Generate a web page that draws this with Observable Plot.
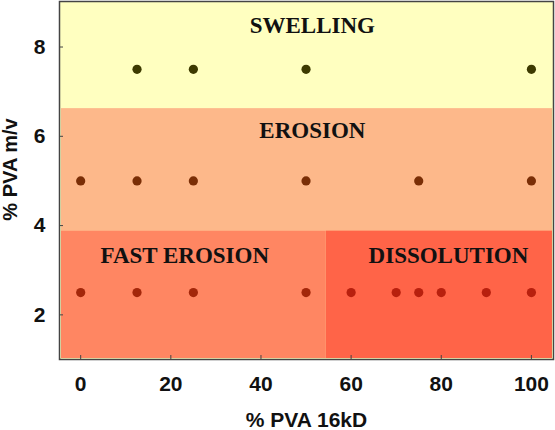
<!DOCTYPE html>
<html>
<head>
<meta charset="utf-8">
<script src="https://cdn.jsdelivr.net/npm/d3@7"></script>
<script src="https://cdn.jsdelivr.net/npm/@observablehq/plot@0.6"></script>
<style>
  html, body { margin: 0; padding: 0; background: #fff; }
  #chart svg { display: block; }
</style>
</head>
<body>
<div id="chart"></div>
<script>
// Data
const swellingX = [12.5, 25, 50, 100];
const swellingY = 7.5;
const erosionX = [0, 12.5, 25, 50, 75, 100];
const erosionY = 5;
const fastErosionX = [0, 12.5, 25, 50];
const fastErosionY = 2.5;
const dissolutionX = [60, 70, 75, 80, 90, 100];
const dissolutionY = 2.5;

const xTicks = [0, 20, 40, 60, 80, 100];
const yTicks = [2, 4, 6, 8];

const xDomain = [-4.7, 104.9];
const yDomain = [1, 9.02];

// Region boundaries
const swellingBottom = 6.62;
const erosionBottom = 3.88;
const dissolutionLeft = 54.5;

const erosionRegion = [{x1: xDomain[0], x2: xDomain[1], y1: erosionBottom, y2: swellingBottom}];
const fastRegion = [{x1: xDomain[0], x2: dissolutionLeft, y1: yDomain[0], y2: erosionBottom}];
const dissRegion = [{x1: dissolutionLeft, x2: xDomain[1], y1: yDomain[0], y2: erosionBottom}];

const labels = [
  {text: "SWELLING", x: 51.4, y: 8.47},
  {text: "EROSION", x: 51.4, y: 6.13},
  {text: "FAST EROSION", x: 23.1, y: 3.33},
  {text: "DISSOLUTION", x: 81.6, y: 3.33}
];

const points = [
  ...swellingX.map(x => ({x, y: swellingY, c: "#3d3a00"})),
  ...erosionX.map(x => ({x, y: erosionY, c: "#7a2e06"})),
  ...fastErosionX.map(x => ({x, y: fastErosionY, c: "#a3270a"})),
  ...dissolutionX.map(x => ({x, y: dissolutionY, c: "#b8200e"}))
];

const W = 555, H = 430;
const mTop = 1, mBottom = 71, mLeft = 59, mRight = 2;
const plotH = H - mTop - mBottom;
const plotW = W - mLeft - mRight;

const chart = Plot.plot({
  width: W,
  height: H,
  marginTop: mTop,
  marginBottom: mBottom,
  marginLeft: mLeft,
  marginRight: mRight,
  style: {fontFamily: "'Liberation Sans', Arial, sans-serif", background: "#fff"},
  x: {domain: xDomain},
  y: {domain: yDomain},
  marks: [
    Plot.frame({fill: "#ffffc0"}),
    Plot.rect(erosionRegion, {x1: "x1", x2: "x2", y1: "y1", y2: "y2", fill: "#fdb88a", insetLeft: 2, insetRight: 1}),
    Plot.rect(fastRegion, {x1: "x1", x2: "x2", y1: "y1", y2: "y2", fill: "#ff8662", insetLeft: 2, insetBottom: 1}),
    Plot.rect(dissRegion, {x1: "x1", x2: "x2", y1: "y1", y2: "y2", fill: "#ff6448", insetRight: 1, insetBottom: 1}),
    Plot.text(labels, {x: "x", y: "y", text: "text", fontFamily: "'Liberation Serif', 'Times New Roman', serif", fontWeight: "bold", fontSize: 23, fill: "#111"}),
    Plot.dot(points, {x: "x", y: "y", r: 4.6, fill: "c", stroke: null}),
    Plot.tickX(xTicks, {x: d => d, insetTop: plotH - 4, stroke: "#444", strokeWidth: 1}),
    Plot.tickY(yTicks, {y: d => d, insetRight: plotW - 4, stroke: "#444", strokeWidth: 1}),
    Plot.axisX(xTicks, {tickSize: 0, tickPadding: 17, fontSize: 21, fontWeight: "bold", fill: "#111", label: null}),
    Plot.axisY(yTicks, {tickSize: 0, tickPadding: 14, fontSize: 21, fontWeight: "bold", fill: "#111", label: null}),
    Plot.text(["% PVA 16kD"], {frameAnchor: "bottom", dy: 61, lineAnchor: "middle", textAnchor: "middle", fontSize: 21, fontWeight: "bold", fill: "#111"}),
    Plot.text(["% PVA m/v"], {frameAnchor: "left", dx: -48.5, dy: -11, textAnchor: "middle", lineAnchor: "middle", rotate: -90, fontSize: 20, fontWeight: "bold", fill: "#111"}),
    Plot.frame({stroke: "#444", strokeWidth: 1.5})
  ]
});

document.getElementById("chart").appendChild(chart);
</script>
</body>
</html>
